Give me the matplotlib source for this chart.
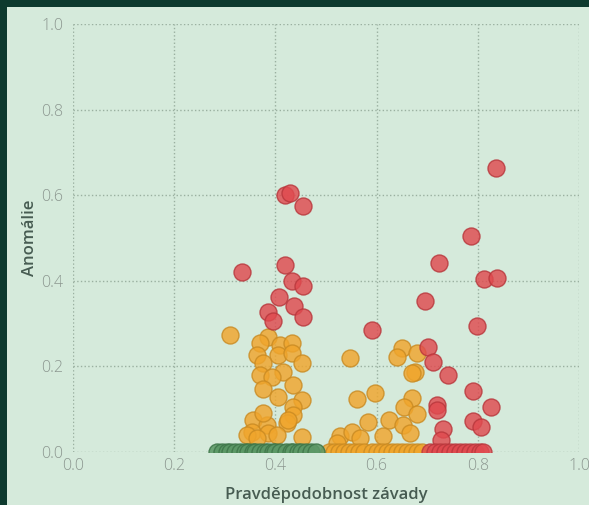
import matplotlib
matplotlib.use('Agg')
import matplotlib.pyplot as plt
from matplotlib.patches import Rectangle

# data
green_x = [0.285, 0.295, 0.305, 0.31, 0.32, 0.33, 0.34, 0.345, 0.355, 0.36, 0.37, 0.38,
           0.385, 0.395, 0.40, 0.41, 0.42, 0.43, 0.435, 0.445, 0.45, 0.46, 0.47, 0.48]
green_y = [0.0] * len(green_x)

orange_x = [0.310, 0.385, 0.370, 0.409, 0.433, 0.364, 0.405, 0.433, 0.375, 0.453,
            0.415, 0.370, 0.393, 0.435, 0.375, 0.405, 0.453, 0.435, 0.435, 0.423,
            0.356, 0.383, 0.354, 0.385, 0.344, 0.403, 0.453, 0.364, 0.375, 0.425,
            0.547, 0.650, 0.640, 0.680, 0.676, 0.670, 0.597, 0.561, 0.670, 0.654,
            0.680, 0.583, 0.625, 0.652, 0.666, 0.528, 0.551, 0.567, 0.613, 0.522,
            0.505, 0.515, 0.525, 0.535, 0.545, 0.555, 0.565, 0.575, 0.59, 0.60,
            0.61, 0.62, 0.63, 0.64, 0.65, 0.66, 0.67, 0.68, 0.69]
orange_y = [0.273, 0.269, 0.255, 0.250, 0.255, 0.227, 0.227, 0.231, 0.208, 0.208,
            0.187, 0.180, 0.175, 0.157, 0.147, 0.129, 0.121, 0.105, 0.086, 0.068,
            0.075, 0.063, 0.047, 0.044, 0.040, 0.040, 0.035, 0.033, 0.091, 0.075,
            0.220, 0.243, 0.222, 0.231, 0.187, 0.185, 0.138, 0.124, 0.126, 0.105,
            0.089, 0.070, 0.075, 0.063, 0.044, 0.037, 0.047, 0.033, 0.037, 0.020,
            0.0, 0.0, 0.0, 0.0, 0.0, 0.0, 0.0, 0.0, 0.0, 0.0,
            0.0, 0.0, 0.0, 0.0, 0.0, 0.0, 0.0, 0.0, 0.0]

red_x = [0.419, 0.429, 0.455, 0.334, 0.419, 0.433, 0.455, 0.407, 0.437, 0.385,
         0.395, 0.455, 0.591, 0.702, 0.711, 0.741, 0.719, 0.720, 0.731, 0.696,
         0.836, 0.787, 0.724, 0.812, 0.838, 0.798, 0.790, 0.826, 0.791, 0.806,
         0.728,
         0.705, 0.715, 0.725, 0.735, 0.745, 0.755, 0.765, 0.775, 0.785, 0.795,
         0.805, 0.81]
red_y = [0.600, 0.605, 0.575, 0.421, 0.437, 0.400, 0.388, 0.362, 0.341, 0.327,
         0.306, 0.315, 0.285, 0.245, 0.210, 0.180, 0.110, 0.098, 0.054, 0.353,
         0.663, 0.505, 0.442, 0.404, 0.406, 0.294, 0.143, 0.105, 0.072, 0.058,
         0.028,
         0.0, 0.0, 0.0, 0.0, 0.0, 0.0, 0.0, 0.0, 0.0, 0.0,
         0.0, 0.0]

ticks = [0.0, 0.2, 0.4, 0.6, 0.8, 1.0]

plt.rcParams['font.family'] = ['Open Sans', 'DejaVu Sans']

bg = '#d5eadb'
fig = plt.figure(figsize=(5.89, 5.05), dpi=100, facecolor='#0d3a2e')
fig.add_artist(Rectangle((7 / 589, 0), 1, 1 - 7 / 505, transform=fig.transFigure,
                         facecolor=bg, edgecolor='none', zorder=-5))

ax = fig.add_axes([73 / 589, 53 / 505, 506 / 589, 428 / 505])
ax.set_facecolor(bg)

ms = 150
ax.scatter(orange_x, orange_y, s=ms, c='#f0a52c', edgecolors='#c98a22',
           linewidths=1, alpha=0.82, zorder=3)
ax.scatter(green_x, green_y, s=ms, c='#5c9866', edgecolors='#3e7649',
           linewidths=1, alpha=0.88, zorder=3)
ax.scatter(red_x, red_y, s=ms, c='#e04a4f', edgecolors='#b8363b',
           linewidths=1, alpha=0.82, zorder=4)

ax.set_xlim(0, 1)
ax.set_ylim(0, 1)
ax.set_xticks(ticks)
ax.set_yticks(ticks)
ax.set_xticklabels([f'{t:.1f}' for t in ticks], fontweight='light')
ax.set_yticklabels([f'{t:.1f}' for t in ticks], fontweight='light')
ax.tick_params(length=0, labelsize=11.5, colors='#8c9790', pad=7)
ax.tick_params(axis='x', pad=4)
for s in ax.spines.values():
    s.set_visible(False)
ax.grid(True, linestyle=':', color='#9ab0a0', linewidth=1.0)
ax.set_axisbelow(True)

ax.set_xlabel('Pravděpodobnost závady', fontsize=12, fontweight='semibold', color='#475c52',
              labelpad=10)
ax.set_ylabel('Anomálie', fontsize=12, fontweight='semibold', color='#475c52', labelpad=2)

fig.savefig('out.png', dpi=100, facecolor=fig.get_facecolor())
